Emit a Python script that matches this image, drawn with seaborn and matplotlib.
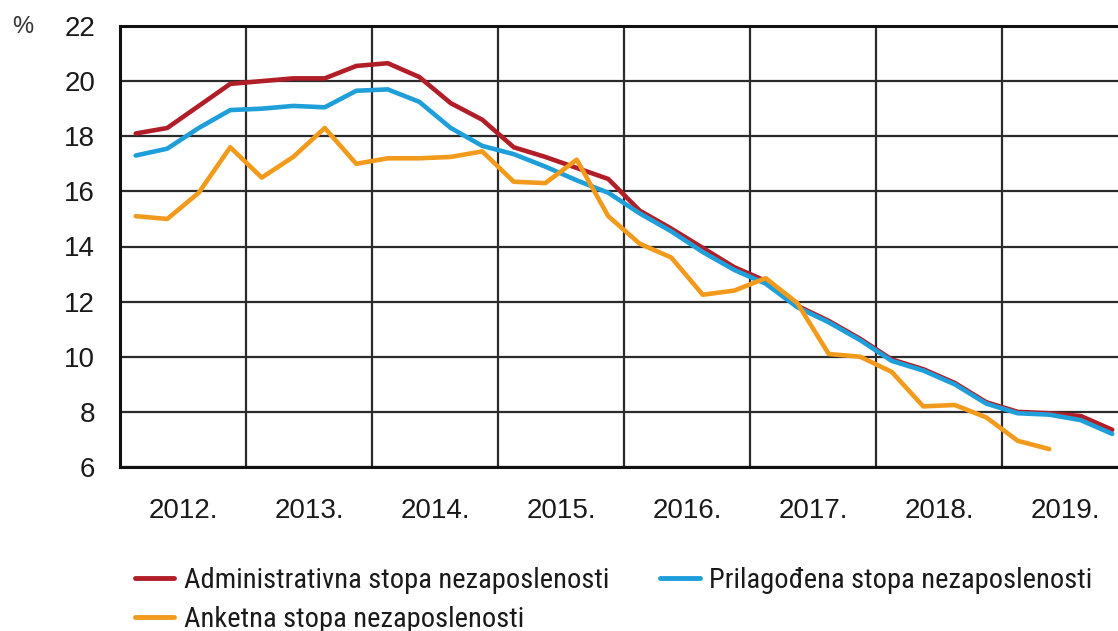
import matplotlib
matplotlib.use("Agg")
import matplotlib.pyplot as plt
from matplotlib.ticker import FixedLocator, NullFormatter
from matplotlib.lines import Line2D
from matplotlib import font_manager
import seaborn as sns
import pandas as pd

years = ["2012.", "2013.", "2014.", "2015.", "2016.", "2017.", "2018.", "2019."]
first_year = 2012

admin = [18.1, 18.3, 19.1, 19.9, 20.0, 20.1, 20.1, 20.55, 20.65, 20.15, 19.2, 18.6,
         17.6, 17.25, 16.85, 16.45, 15.3, 14.65, 13.95, 13.25, 12.75, 11.85, 11.3, 10.65,
         9.9, 9.55, 9.05, 8.35, 8.0, 7.95, 7.85, 7.35]
adjusted = [17.3, 17.55, 18.3, 18.95, 19.0, 19.1, 19.05, 19.65, 19.7, 19.25, 18.3, 17.65,
            17.35, 16.9, 16.4, 15.95, 15.2, 14.55, 13.8, 13.15, 12.65, 11.8, 11.25, 10.6,
            9.85, 9.5, 9.0, 8.3, 7.95, 7.9, 7.7, 7.2]
survey = [15.1, 15.0, 15.95, 17.6, 16.5, 17.25, 18.3, 17.0, 17.2, 17.2, 17.25, 17.45,
          16.35, 16.3, 17.15, 15.1, 14.1, 13.6, 12.25, 12.4, 12.85, 11.95, 10.1, 10.0,
          9.45, 8.2, 8.25, 7.8, 6.95, 6.65]

names = ["Administrativna stopa nezaposlenosti",
         "Prilagođena stopa nezaposlenosti",
         "Anketna stopa nezaposlenosti"]
colors = ["#B21E28", "#1E9FDA", "#F29A1C"]
yticks = [6, 8, 10, 12, 14, 16, 18, 20, 22]

rows = []
for name, vals in zip(names, [admin, adjusted, survey]):
    for i, v in enumerate(vals):
        rows.append({"t": first_year + (i + 0.5) / 4, "value": v, "series": name})
df = pd.DataFrame(rows)

sns.set_style("white")
avail = {f.name for f in font_manager.fontManager.ttflist}
narrow = "Liberation Sans"
for cand in ["Liberation Sans Narrow", "Roboto Condensed", "Roboto"]:
    if cand in avail:
        narrow = cand
        break
plt.rcParams["font.family"] = ["Liberation Sans", "DejaVu Sans"]

fig = plt.figure(figsize=(11.18, 6.31), dpi=100)
ax = fig.add_axes([120 / 1118, 1 - 467 / 631, 1008 / 1118, 441 / 631])

sns.lineplot(data=df, x="t", y="value", hue="series", hue_order=names,
             palette=dict(zip(names, colors)), linewidth=3.3, ax=ax, legend=False,
             sort=False)

ax.set_xlim(first_year, first_year + len(years))
ax.set_ylim(6, 22)
ax.set_yticks(yticks)
ax.set_yticklabels([str(v) for v in yticks], fontsize=20, color="#1a1a1a")
ax.xaxis.set_major_locator(FixedLocator([first_year + k for k in range(len(years) + 1)]))
ax.xaxis.set_major_formatter(NullFormatter())
ax.xaxis.set_minor_locator(FixedLocator([first_year + k + 0.5 for k in range(len(years))]))
ax.set_xticklabels(years, minor=True, fontsize=20, color="#1a1a1a")
ax.tick_params(axis="x", which="both", length=0, pad=22)
ax.tick_params(axis="y", length=0, pad=18)
ax.grid(True, which="major", color="#2b2b2b", linewidth=1.6)
ax.set_xlabel("")
ax.set_ylabel("")
for sp in ax.spines.values():
    sp.set_color("#111111")
    sp.set_linewidth(2.2)

fig.text(12 / 1118, 1 - 27 / 631, "%", fontsize=17, color="#333333", va="center", ha="left")

handles = [Line2D([0], [0], color=c, lw=3.5) for c in colors]
order = [0, 2, 1]
leg = fig.legend([handles[i] for i in order], [names[i] for i in order],
                 ncol=2, loc="upper left", bbox_to_anchor=(109 / 1118, 1 - 541 / 631),
                 frameon=False, handlelength=1.4, handletextpad=0.35,
                 columnspacing=1.75, labelspacing=0.42,
                 prop={"family": narrow, "size": 20.5})
for t in leg.get_texts():
    t.set_color("#1a1a1a")

fig.savefig("out.png", dpi=100)
